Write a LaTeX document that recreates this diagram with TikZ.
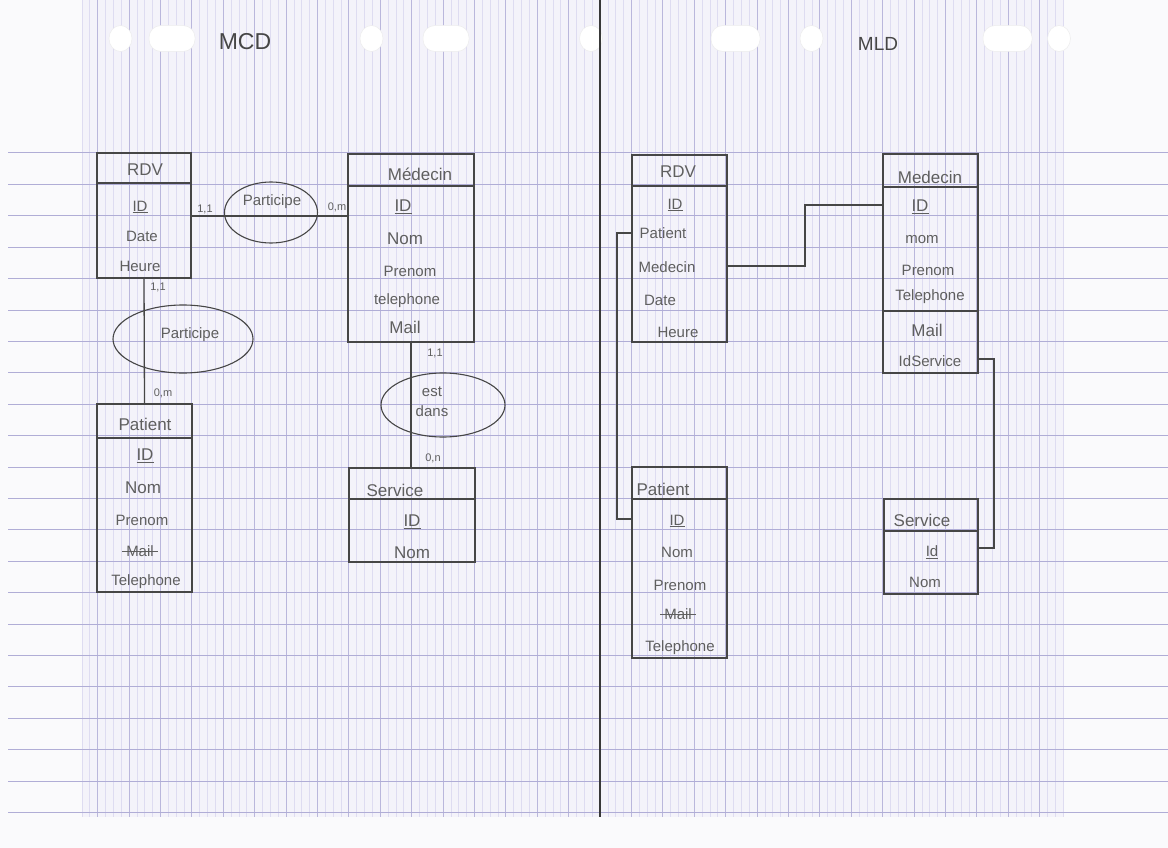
\documentclass[tikz,border=0pt]{standalone}
\usepackage{fontspec}
\setmainfont{Liberation Sans}
\usetikzlibrary{shapes.geometric}
\definecolor{paper}{RGB}{250,250,252}
\definecolor{gridbg}{RGB}{244,243,250}
\definecolor{fineln}{RGB}{222,220,241}
\definecolor{majorln}{RGB}{186,183,220}
\definecolor{hln}{RGB}{176,173,214}
\definecolor{ink}{RGB}{70,70,70}
\definecolor{pencil}{RGB}{95,95,95}
\tikzset{
 ent/.style={draw=ink, line width=1.3pt, inner sep=0pt},
 rel/.style={draw=ink, ellipse, line width=1.1pt, inner sep=0pt},
 conn/.style={draw=ink, line width=1.3pt},
 attr/.style={text=pencil, font=\fontsize{15}{17}\selectfont, inner sep=1pt},
 big/.style={attr, font=\fontsize{17}{19}\selectfont},
 head/.style={attr, font=\fontsize{17}{19}\selectfont},
 card/.style={text=pencil, font=\fontsize{11}{13}\selectfont, inner sep=0pt},
 strike/.style={draw=pencil, line width=0.9pt},
 hole/.style={fill=white, draw=black!7, line width=0.5pt},
 title/.style={text=ink, font=\fontsize{23}{26}\selectfont},
}
\begin{document}
\begin{tikzpicture}[x=1pt,y=-1pt]
\useasboundingbox (0,0) rectangle (1168,848);
% paper
\fill[paper] (0,0) rectangle (1168,848);
\fill[gridbg] (82,0) rectangle (1064,817);
\foreach \i in {0,...,125} \draw[fineln, line width=0.7pt] ({81.9+7.85*\i},0) -- ++(0,817);
\foreach \m in {0,...,30} \draw[majorln, line width=1pt] ({97.6+31.4*\m},0) -- ++(0,817);
\foreach \k in {0,...,21} \draw[hln, line width=1pt] (8,{153+31.4*\k}) -- (1168,{153+31.4*\k});
% punch holes
\foreach \cx in {120.5,371.5,591,811.5,1059} \fill[hole] (\cx,38.5) ellipse [x radius=11.5, y radius=13];
\foreach \a/\b in {149/195,423/469,711/760,983/1032} \filldraw[hole, rounded corners=12pt] (\a,25.5) rectangle (\b,51.5);
% divider
\draw[ink!80!black, line width=1.6pt] (600,0) -- (600,817);
% titles
\node[title] (mcd) at (245,42) {MCD};
\node[title, font=\fontsize{19}{21}\selectfont] (mld) at (878,44) {MLD};

% ================= MCD =================
\node[ent, minimum width=94, minimum height=125] (rdv) at (144,215.5) {};
\draw[conn] (rdv.west |- 0,183) -- (rdv.east |- 0,183);
\node[head] (rdvT) at (145,170) {RDV};
\node[attr] (rdvId) at (140,207) {\underline{ID}};
\node[attr] (rdvDate) at (142,236) {Date};
\node[attr] (rdvHeure) at (140,266) {Heure};

\node[ent, minimum width=126, minimum height=188] (med) at (411,248) {};
\draw[conn] (med.west |- 0,186) -- (med.east |- 0,186);
\node[head] (medT) at (420,174) {Médecin};
\node[big] (medId) at (403,207) {\underline{ID}};
\node[big] (medNom) at (405,239) {Nom};
\node[attr] (medPre) at (410,271) {Prenom};
\node[attr] (medTel) at (407,301) {telephone};
\node[big] (medMail) at (405,327) {Mail};

\node[ent, minimum width=95, minimum height=188] (pat) at (144.5,498) {};
\draw[conn] (pat.west |- 0,438) -- (pat.east |- 0,438);
\node[head] (patT) at (145,424) {Patient};
\node[big] (patId) at (145,456) {\underline{ID}};
\node[big] (patNom) at (143,488) {Nom};
\node[attr] (patPre) at (142,520) {Prenom};
\node[attr] (patMail) at (140,551) {Mail};
\draw[strike] ([xshift=-3pt]patMail.west) -- ([xshift=3pt]patMail.east);
\node[attr] (patTel) at (146,582) {Telephone};

\node[ent, minimum width=126, minimum height=94] (serv) at (412,515) {};
\draw[conn] (serv.west |- 0,499) -- (serv.east |- 0,499);
\node[head] (servT) at (395,490) {Service};
\node[big] (servId) at (412,522) {\underline{ID}};
\node[big] (servNom) at (412,553) {Nom};

% relations
\coordinate (p1c) at (271,216);
\draw[conn] (rdv.east |- p1c) -- (med.west |- p1c);
\node[rel, minimum width=93, minimum height=61] (part1) at (271,212.5) {};
\node[attr] (part1T) at (272,202) {Participe};

\node[rel, minimum width=140, minimum height=68] (part2) at (183,339) {};
\draw[conn] (rdv.south) -- (pat.north);
\node[attr] (part2T) at (190,335) {Participe};

\node[rel, minimum width=124, minimum height=64] (estd) at (443,405) {};
\draw[conn] (med.south) -- (med.south |- serv.north);
\node[attr] (estT) at (432,392) {est};
\node[attr] (dansT) at (432,411) {dans};

\node[card] (c1) at (205,209) {1,1};
\node[card] (c2) at (337,207) {0,m};
\node[card] (c3) at (158,287) {1,1};
\node[card] (c4) at (163,393) {0,m};
\node[card] (c5) at (435,353) {1,1};
\node[card] (c6) at (433,458) {0,n};

% ================= MLD =================
\node[ent, minimum width=95, minimum height=187] (rdv2) at (679.5,248.5) {};
\draw[conn] (rdv2.west |- 0,186) -- (rdv2.east |- 0,186);
\node[head] (rdv2T) at (678,172) {RDV};
\node[attr] (rdv2Id) at (675,205) {\underline{ID}};
\node[attr] (rdv2Pat) at (663,233) {Patient};
\node[attr] (rdv2Med) at (667,267) {Medecin};
\node[attr] (rdv2Date) at (660,300) {Date};
\node[attr] (rdv2Heure) at (678,332) {Heure};

\node[ent, minimum width=95, minimum height=219] (med2) at (930.5,263.5) {};
\draw[conn] (med2.west |- 0,187) -- (med2.east |- 0,187);
\draw[conn] (med2.west |- 0,311) -- (med2.east |- 0,311);
\node[head] (med2T) at (930,177) {Medecin};
\node[big] (med2Id) at (920,207) {\underline{ID}};
\node[attr] (med2Nom) at (922,240) {mom};
\node[attr] (med2Pre) at (928,270) {Prenom};
\node[attr] (med2Tel) at (930,297) {Telephone};
\node[big] (med2Mail) at (927,330) {Mail};
\node[attr] (med2Serv) at (930,361) {IdService};

\node[ent, minimum width=95, minimum height=191] (pat2) at (679.5,562.5) {};
\draw[conn] (pat2.west |- 0,499) -- (pat2.east |- 0,499);
\node[head] (pat2T) at (663,489) {Patient};
\node[attr] (pat2Id) at (677,521) {\underline{ID}};
\node[attr] (pat2Nom) at (677,552) {Nom};
\node[attr] (pat2Pre) at (680,585) {Prenom};
\node[attr] (pat2Mail) at (678,614) {Mail};
\draw[strike] ([xshift=-3pt]pat2Mail.west) -- ([xshift=3pt]pat2Mail.east);
\node[attr] (pat2Tel) at (680,648) {Telephone};

\node[ent, minimum width=94, minimum height=95] (serv2) at (931,546.5) {};
\draw[conn] (serv2.west |- 0,531) -- (serv2.east |- 0,531);
\node[head] (serv2T) at (922,520) {Service};
\node[attr] (serv2Id) at (932,552) {\underline{Id}};
\node[attr] (serv2Nom) at (925,582) {Nom};

% foreign-key links
\coordinate (k1) at (805,266);
\coordinate (k2) at (805,205);
\draw[conn] (rdv2.east |- k1) -- (k1) -- (k2) -- (med2.west |- k2);
\coordinate (k3) at (617,233);
\coordinate (k4) at (617,519);
\draw[conn] (rdv2.west |- k3) -- (k3) -- (k4) -- (pat2.west |- k4);
\coordinate (k5) at (994,359);
\coordinate (k6) at (994,548);
\draw[conn] (med2.east |- k5) -- (k5) -- (k6) -- (serv2.east |- k6);
\end{tikzpicture}
\end{document}
